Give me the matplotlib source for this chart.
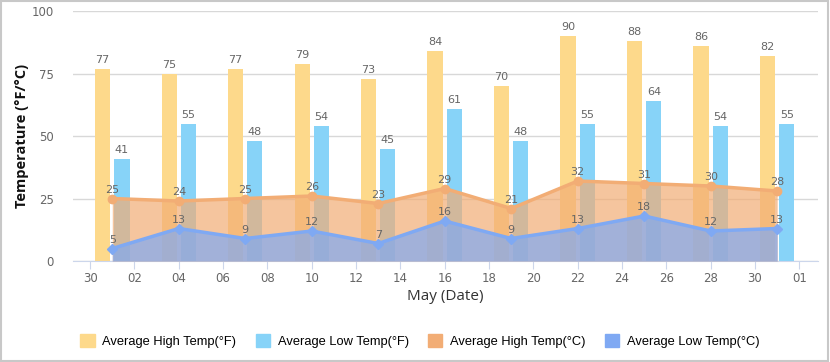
import pandas as pd
import matplotlib.pyplot as plt
import matplotlib.dates as mdates
from matplotlib.patches import Rectangle

# Datos
fechas = ["2023-05-01", "2023-05-04", "2023-05-07", "2023-05-10", "2023-05-13", "2023-05-16",
          "2023-05-19", "2023-05-22", "2023-05-25", "2023-05-28", "2023-05-31"]
alta_f = [77, 75, 77, 79, 73, 84, 70, 90, 88, 86, 82]
baja_f = [41, 55, 48, 54, 45, 61, 48, 55, 64, 54, 55]
alta_c = [25, 24, 25, 26, 23, 29, 21, 32, 31, 30, 28]
baja_c = [5, 13, 9, 12, 7, 16, 9, 13, 18, 12, 13]

x = pd.to_datetime(fechas)
desp = pd.Timedelta(hours=10.5)

fig = plt.figure(figsize=(8.3, 3.62), dpi=100)
ax = fig.add_axes([0.088, 0.279, 0.8975, 0.6906])

c_alta_f = "#fdd98b"
c_baja_f = "#87d3f8"
c_alta_c = "#f2ad75"
c_baja_c = "#7fa9f3"
gris = "#666666"

b1 = ax.bar(x - desp, alta_f, width=0.68, color=c_alta_f, zorder=2)
b2 = ax.bar(x + desp, baja_f, width=0.68, color=c_baja_f, zorder=2)
for barras in (b1, b2):
    for b in barras:
        ax.text(b.get_x() + b.get_width() / 2, b.get_height() + 1.5, str(int(b.get_height())),
                ha="center", va="bottom", fontsize=8, color=gris, zorder=6)

# Areas (°C)
ax.fill_between(x, alta_c, 0, color=c_alta_c, alpha=0.7, lw=0, zorder=3)
ax.plot(x, alta_c, color=c_alta_c, lw=2.5, marker="o", ms=6, zorder=4)
ax.fill_between(x, baja_c, 0, color=c_baja_c, alpha=0.7, lw=0, zorder=3)
ax.plot(x, baja_c, color=c_baja_c, lw=2.5, marker="D", ms=5, zorder=4)
for xi, v in zip(x, alta_c):
    ax.text(xi, v + 1.5, str(v), ha="center", va="bottom", fontsize=8, color=gris, zorder=6)
for xi, v in zip(x, baja_c):
    ax.text(xi, v + 1.5, str(v), ha="center", va="bottom", fontsize=8, color=gris, zorder=6)

# Ejes
ax.set_ylim(0, 100)
ax.set_yticks([0, 25, 50, 75, 100])
ax.set_xlim(pd.Timestamp("2023-04-30") - pd.Timedelta(days=0.77),
            pd.Timestamp("2023-04-30") + pd.Timedelta(days=32.84))
ax.set_xticks(pd.date_range("2023-04-30", "2023-06-01", freq="2D"))
ax.xaxis.set_major_formatter(mdates.DateFormatter("%d"))
ax.grid(axis="y", color="#d8d8d8", lw=1, zorder=0)
ax.set_axisbelow(True)
for lado in ("top", "right", "left"):
    ax.spines[lado].set_visible(False)
ax.spines["bottom"].set_color("#ccd6eb")
ax.tick_params(axis="x", colors="#ccd6eb", labelcolor=gris, length=6, labelsize=8.5, pad=2)
ax.tick_params(axis="y", length=0, labelcolor=gris, labelsize=8.5, pad=14)

ax.set_ylabel("Temperature (°F/°C)", fontsize=10.5, fontweight="bold", color="#111111",
              labelpad=2, family="Open Sans")
ax.set_xlabel("May (Date)", fontsize=11, color="#333333", labelpad=3, family="Open Sans")

# Leyenda
h = [Rectangle((0, 0), 1, 1, color=c) for c in (c_alta_f, c_baja_f, c_alta_c, c_baja_c)]
etiquetas = ["Average High Temp(°F)", "Average Low Temp(°F)", "Average High Temp(°C)", "Average Low Temp(°C)"]
fig.legend(h, etiquetas, loc="center", bbox_to_anchor=(0.506, 0.058), ncol=4, frameon=False,
           prop={"family": "Liberation Sans", "size": 9.3}, handlelength=1.1, handleheight=1.1,
           handletextpad=0.6, columnspacing=1.5)

# Borde
fig.patches.append(Rectangle((0.001, 0.002), 0.997, 0.995, transform=fig.transFigure,
                             fill=False, edgecolor="#c8c8c8", lw=1.5))

plt.savefig("out.png", dpi=100)
